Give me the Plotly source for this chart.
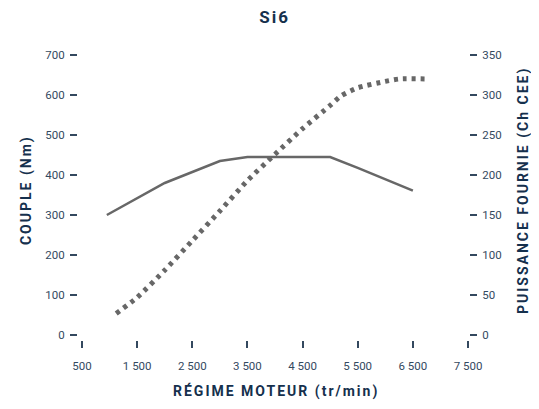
import plotly.graph_objects as go

# engine speed (tr/min) and torque (Nm)
torque_rpm = [950, 2000, 3000, 3500, 4500, 5000, 5500, 6000, 6500]
torque_nm = [300, 380, 435, 445, 445, 445, 418, 390, 361]

# engine speed (tr/min) and power (Ch CEE)
power_rpm = [1120, 1500, 2000, 2500, 3000, 3500, 4000, 4500, 5000, 5200, 5500, 6000, 6250, 6800]
power_ch = [27, 47, 81, 118, 155, 193, 226, 258, 287, 299, 309, 317, 320, 320]

x_ticks = [500, 1500, 2500, 3500, 4500, 5500, 6500, 7500]
x_labels = ["500", "1 500", "2 500", "3 500", "4 500", "5 500", "6 500", "7 500"]
y_left_ticks = [0, 100, 200, 300, 400, 500, 600, 700]
y_right_ticks = [0, 50, 100, 150, 200, 250, 300, 350]

NAVY = "#15304d"
TICK = "#34495f"
GREY = "#676767"
FONT = "Roboto, Noto Sans, sans-serif"


def spaced(text, px=2):
    return f'<span style="letter-spacing:{px}px">{text}</span>'


fig = go.Figure()

fig.add_trace(go.Scatter(
    x=torque_rpm, y=torque_nm,
    mode="lines",
    line=dict(color=GREY, width=2.5),
    name="Couple",
))

fig.add_trace(go.Scatter(
    x=power_rpm, y=power_ch,
    mode="lines",
    yaxis="y2",
    line=dict(color=GREY, width=5, dash="4px,5px", shape="spline", smoothing=0.6),
    name="Puissance",
))

axis_common = dict(
    showgrid=False, zeroline=False, showline=False,
    ticks="outside", ticklen=7, tickwidth=1.5, tickcolor=TICK,
    tickfont=dict(family=FONT, size=11.5, color=TICK),
)

# page body has an 8px margin; keep the figure inside the window (no scrollbars)
fig.update_layout(
    width=523, height=393,
    margin=dict(l=70, r=62, t=47, b=61),
    plot_bgcolor="white", paper_bgcolor="white",
    showlegend=False,
    title=dict(
        text=spaced("<b>Si6</b>", 2),
        x=0.51, y=1 - 9 / 393, xanchor="center", yanchor="middle",
        font=dict(family=FONT, size=17, color=NAVY),
    ),
    xaxis=dict(range=[427, 7518], tickvals=x_ticks, ticktext=x_labels,
               ticklabelstandoff=8, **axis_common),
    yaxis=dict(range=[-12.5, 700], tickvals=y_left_ticks, ticklabelstandoff=3,
               **axis_common),
    yaxis2=dict(range=[-6.25, 350], tickvals=y_right_ticks, overlaying="y", side="right",
                ticklabelstandoff=3, **axis_common),
    annotations=[
        dict(text=spaced("<b>RÉGIME MOTEUR (tr/min)</b>"), xref="paper", yref="paper",
             x=0.506, y=-0.179, showarrow=False, xanchor="center", yanchor="middle",
             font=dict(family=FONT, size=14, color=NAVY)),
        dict(text=spaced("<b>COUPLE (Nm)</b>"), xref="paper", yref="paper",
             x=-0.133, y=0.526, showarrow=False, textangle=-90,
             xanchor="center", yanchor="middle",
             font=dict(family=FONT, size=14, color=NAVY)),
        dict(text=spaced("<b>PUISSANCE FOURNIE (Ch CEE)</b>"), xref="paper", yref="paper",
             x=1.138, y=0.526, showarrow=False, textangle=-90,
             xanchor="center", yanchor="middle",
             font=dict(family=FONT, size=14, color=NAVY)),
    ],
)

fig.write_html("out.html")
